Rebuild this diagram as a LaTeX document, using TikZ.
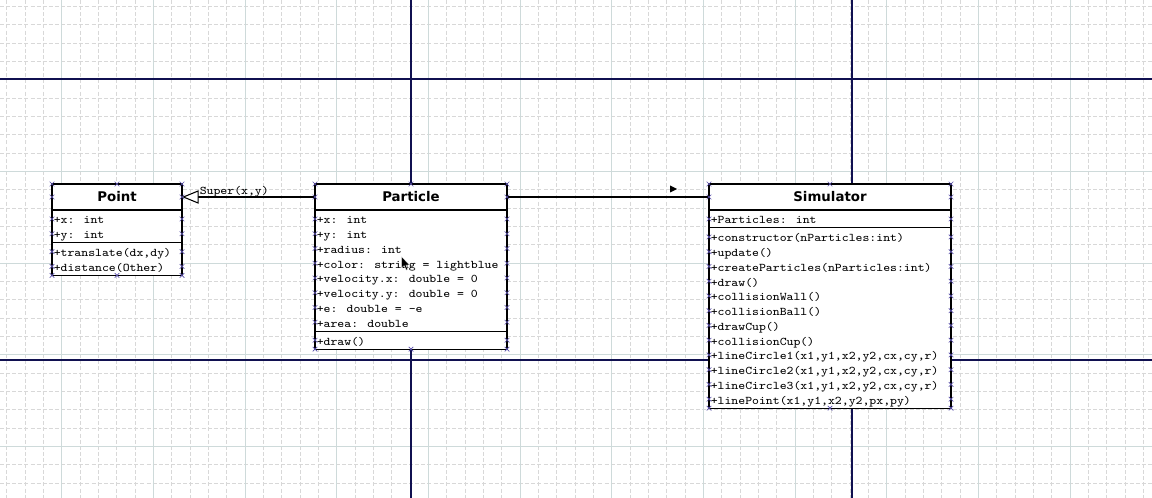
\documentclass[tikz,border=0pt]{standalone}
\usepackage{fontspec}
\newfontfamily\monof{Latin Modern Mono}[FakeStretch=1.12]
\newfontfamily\titlef{DejaVu Sans}
\usetikzlibrary{arrows.meta,calc}
\definecolor{minorgrid}{RGB}{216,216,216}
\definecolor{majorgrid}{RGB}{206,218,218}
\definecolor{pagebreak}{RGB}{16,16,80}
\definecolor{cpcol}{RGB}{90,80,170}
\def\pxu{0.75pt}
\newcommand\cpmarks[6]{% L, R, T, B, mid, list of row ys
  \foreach \yy in {#3,197,#6,#4} {\pic at (#1,\yy) {cpx}; \pic at (#2,\yy) {cpx};}
  \pic at (#5,#3) {cpx}; \pic at (#5,#4) {cpx};
}
\begin{document}
\begin{tikzpicture}[x=0.75pt,y=-0.75pt,
  classbox/.style={draw=black, fill=white, line width=0.8pt, inner sep=0pt, outer sep=0pt},
  classname/.style={font=\titlef\bfseries\fontsize{10}{11}\selectfont},
  member/.style={font=\monof\fontsize{8.8}{10}\selectfont, anchor=base west, inner sep=0pt},
  conn/.style={draw=black, line width=0.8pt},
  cpx/.pic={\draw[cpcol, line width=0.45pt] (-2.3,-2.3) -- (2.3,2.3) (-2.3,2.3) -- (2.3,-2.3);}
]
\fill[white] (0,0) rectangle (1152,498);
\useasboundingbox (0,0) rectangle (1152,498);
\begin{scope}
\clip (0,0) rectangle (1152,498);
% minor grid
\foreach \k in {-4,...,60}
  \draw[minorgrid, line width=0.6pt, dash pattern=on 3pt off 1.58pt] ({61.7+18.333*\k},0) -- ({61.7+18.333*\k},498);
\foreach \k in {-5,...,23}
  \draw[minorgrid, line width=0.6pt, dash pattern=on 3pt off 1.58pt] (0,{79.7+18.333*\k}) -- (1152,{79.7+18.333*\k});
% major grid
\foreach \k in {-1,...,12}
  \draw[majorgrid, line width=0.6pt] ({61.7+91.667*\k},0) -- ({61.7+91.667*\k},498);
\foreach \k in {-1,...,5}
  \draw[majorgrid, line width=0.6pt] (0,{79.7+91.667*\k}) -- (1152,{79.7+91.667*\k});
% page break lines
\draw[pagebreak, line width=0.8pt] (0,79) -- (1152,79);
\draw[pagebreak, line width=0.8pt] (0,360) -- (1152,360);
\draw[pagebreak, line width=0.8pt] (411,0) -- (411,498);
\draw[pagebreak, line width=0.8pt] (852,0) -- (852,498);
\end{scope}

% ---- Point ----
\node[classbox, classname, minimum width=130*\pxu, minimum height=26*\pxu] (pointT) at (117,197) {Point};
\node[classbox, minimum width=130*\pxu, minimum height=32.7*\pxu, anchor=north] (pointA) at (pointT.south) {};
\node[classbox, minimum width=130*\pxu, minimum height=32.7*\pxu, anchor=north] (pointM) at (pointA.south) {};
\foreach [count=\i from 0] \t in {{+x: int},{+y: int}}
  \node[member] (pa\i) at (53.5,{210+14+14.75*\i}) {\t};
\foreach [count=\i from 0] \t in {{+translate(dx,dy)},{+distance(Other)}}
  \node[member] (pm\i) at (53.5,{242.7+14+14.75*\i}) {\t};

% ---- Particle ----
\node[classbox, classname, minimum width=192*\pxu, minimum height=26*\pxu] (partT) at (411,197) {Particle};
\node[classbox, minimum width=192*\pxu, minimum height=121.2*\pxu, anchor=north] (partA) at (partT.south) {};
\node[classbox, minimum width=192*\pxu, minimum height=17.95*\pxu, anchor=north] (partM) at (partA.south) {};
\foreach [count=\i from 0] \t in {{+x: int},{+y: int},{+radius: int},{+color: string = lightblue},{+velocity.x: double = 0},{+velocity.y: double = 0},{+e: double = -e},{+area: double}}
  \node[member] (qa\i) at (316.5,{210+14+14.75*\i}) {\t};
\node[member] (qm0) at (316.5,{331.2+14}) {+draw()};

% ---- Simulator ----
\node[classbox, classname, minimum width=242*\pxu, minimum height=26*\pxu] (simT) at (830,197) {Simulator};
\node[classbox, minimum width=242*\pxu, minimum height=17.95*\pxu, anchor=north] (simA) at (simT.south) {};
\node[classbox, minimum width=242*\pxu, minimum height=180.2*\pxu, anchor=north] (simM) at (simA.south) {};
\node[member] (sa0) at (710.5,{210+14}) {+Particles: int};
\foreach [count=\i from 0] \t in {{+constructor(nParticles:int)},{+update()},{+createParticles(nParticles:int)},{+draw()},{+collisionWall()},{+collisionBall()},{+drawCup()},{+collisionCup()},{+lineCircle1(x1,y1,x2,y2,cx,cy,r)},{+lineCircle2(x1,y1,x2,y2,cx,cy,r)},{+lineCircle3(x1,y1,x2,y2,cx,cy,r)},{+linePoint(x1,y1,x2,y2,px,py)}}
  \node[member] (sm\i) at (710.5,{227.95+14+14.75*\i}) {\t};

% ---- connectors ----
\draw[conn, -{Triangle[fill=white, length=12.5pt, width=10pt, line width=0.8pt]}] (partT.west) -- (pointT.east);
\node[member] (superlbl) at (199.5,195) {Super(x,y)};
\draw[conn] (partT.east) -- (simT.west);
\fill[black] (670,185.5) -- (677,189) -- (670,192.5) -- cycle;

% mouse pointer
\filldraw[fill=black, draw=white, line width=0.3pt] (401.5,256.5) -- (401.5,268) -- (404.2,265.6) -- (406.2,270.2) -- (407.8,269.5) -- (405.9,265) -- (409.5,265) -- cycle;

% ---- connection points ----
\cpmarks{52}{182}{184}{275.4}{117}{218.975,233.725,251.675,266.425}
\cpmarks{315}{507}{184}{349.15}{411}{218.975,233.725,248.475,263.225,277.975,292.725,307.475,322.225,340.175}
\cpmarks{709}{951}{184}{408.15}{830}{218.975,236.925,251.675,266.425,281.175,295.925,310.675,325.425,340.175,354.925,369.675,384.425,399.175}
\end{tikzpicture}
\end{document}
